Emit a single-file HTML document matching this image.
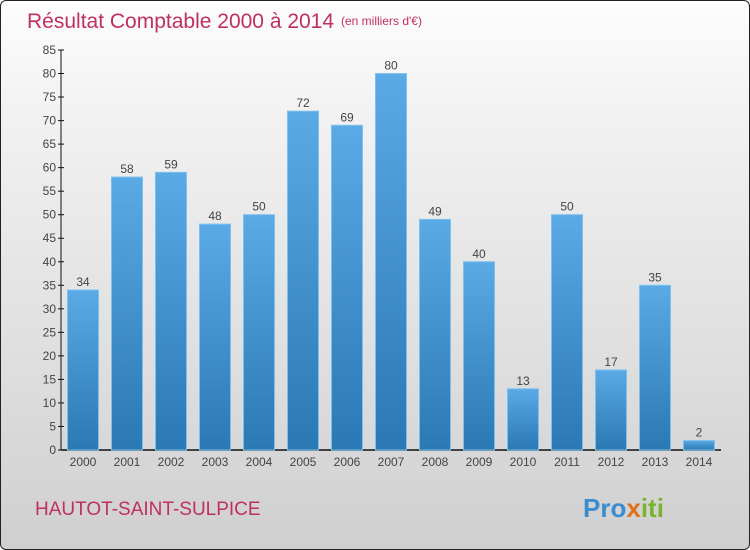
<!DOCTYPE html>
<html><head><meta charset="utf-8"><style>
body{margin:0}
#c{position:relative;width:748px;height:548px;border:1px solid #222;border-radius:6px;overflow:hidden;background:linear-gradient(#fdfdfd,#f2f2f2 20%,#d6d6d6 85%,#cfcfcf);font-family:"Liberation Sans",sans-serif}
</style></head><body>
<div id="c">
<svg width="748" height="548">
<defs><linearGradient id="g" x1="0" y1="0" x2="0" y2="1"><stop offset="0" stop-color="#5aaae6"/><stop offset="1" stop-color="#2a78b4"/></linearGradient></defs>
<text x="26" y="27" font-size="21" fill="#c0305f">Résultat Comptable 2000 à 2014</text>
<text x="340" y="24" font-size="12" fill="#c0305f">(en milliers d'€)</text>
<g id="plot"></g>
<text x="34" y="514" font-size="19" fill="#c0305f">HAUTOT-SAINT-SULPICE</text>
<text x="582" y="516" font-size="26" font-weight="bold"><tspan fill="#3a8ed0">Pro</tspan><tspan fill="#e0701a">x</tspan><tspan fill="#7ab32e">iti</tspan></text>
</svg></div>
<script>
const years=["2000","2001","2002","2003","2004","2005","2006","2007","2008","2009","2010","2011","2012","2013","2014"];
const values=[34,58,59,48,50,72,69,80,49,40,13,50,17,35,2];
const ticks=[0,5,10,15,20,25,30,35,40,45,50,55,60,65,70,75,80,85];
const NS="http://www.w3.org/2000/svg";
const g=document.getElementById('plot');
const y=v=>449-v*400/85;
const x=i=>82+i*44;
function mk(t,a){const e=document.createElementNS(NS,t);for(const k in a)e.setAttribute(k,a[k]);g.appendChild(e);return e;}
let ax=mk('line',{x1:60,y1:y(85),x2:60,y2:449,stroke:'#111'});


let xa=mk('line',{x1:60,y1:449,x2:720,y2:449,stroke:'#111','stroke-width':1.5});


ticks.forEach(t=>{
 let l=mk('line',{x1:57,x2:63,y1:y(t),y2:y(t),stroke:'#111'});
 
 
 let tx=mk('text',{x:55,y:y(t)+4,'text-anchor':'end','font-size':12,fill:'#444'});
 tx.textContent=t;
 
 
});
values.forEach((v,i)=>{
 let r=mk('rect',{x:x(i)-15.5,y:y(v),width:31,height:449-y(v),fill:'url(#g)',stroke:'#7cc0f0','stroke-width':1});
 
 
 let lb=mk('text',{x:x(i),y:y(v)-4,'text-anchor':'middle','font-size':12,fill:'#444'});
 lb.textContent=v;
 
 
 let xl=mk('text',{x:x(i),y:465,'text-anchor':'middle','font-size':12,fill:'#444'});
 xl.textContent=years[i];
 
 
});
</script>
</body></html>
